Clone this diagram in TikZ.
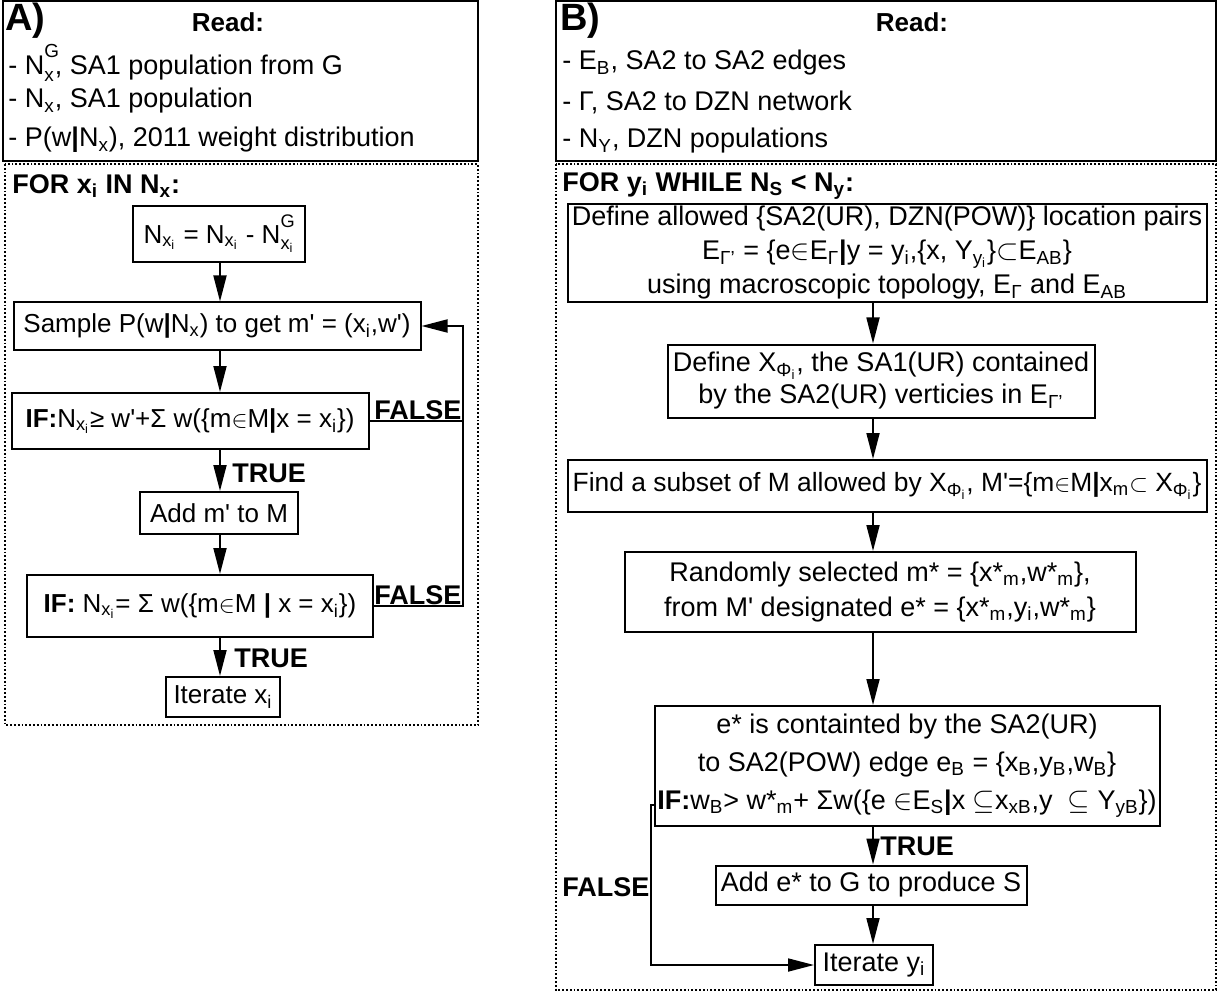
\documentclass[tikz,border=0pt]{standalone}
\usepackage{fontspec}
\setmainfont{Liberation Sans}
\usetikzlibrary{arrows.meta,positioning}

\newcommand{\low}[1]{\textsubscript{#1}}
\newcommand{\lowhigh}[2]{\rlap{\textsuperscript{\raisebox{0.7ex}{#2}}}\textsubscript{\raisebox{-0.3ex}{#1}}}
\newcommand{\tick}{\textquotesingle}

\begin{document}
\begin{tikzpicture}[x=0.5pt,y=-0.5pt,
  box/.style={draw,line width=1pt,align=center,inner sep=1pt},
  frame/.style={draw,line width=1pt},
  dotframe/.style={draw,densely dotted,line width=0.9pt},
  flow/.style={-{Triangle[length=13pt,width=6.5pt]},line width=0.9pt},
  flag/.style={font=\bfseries\fontsize{13.5}{15}\selectfont,anchor=west,inner sep=0pt},
  item/.style={font=\fontsize{13.5}{15}\selectfont,anchor=west,inner sep=0pt},
  atext/.style={font=\fontsize{13}{15}\selectfont},
  btext/.style={font=\fontsize{13.5}{16}\selectfont}]
\useasboundingbox (0,0) rectangle (1219,994);

% ---------- panel A ----------
\draw[frame] (3,1) rectangle (478,161);
\draw[dotframe] (5,164) rectangle (478,725);
\node[anchor=west,inner sep=0pt,font=\bfseries\fontsize{19}{21}\selectfont] (labA) at (5,21) {A)};
\node[font=\bfseries\fontsize{13}{15}\selectfont] (readA) at (228,22) {Read:};
\node[item] (ra1) at (8,63) {- N\lowhigh{x}{G}, SA1 population from G};
\node[item] (ra2) at (8,101) {- N\low{x}, SA1 population};
\node[item] (ra3) at (8,140) {- P(w\textbf{|}N\low{x}), 2011 weight distribution};
\node[flag] (forA) at (12,186) {FOR x\low{i} IN N\low{x}:};

\node[box,atext,minimum width=86pt,minimum height=28pt] (a1) at (219,234)
  {N\low{x\low{i}} = N\low{x\low{i}} - N\lowhigh{x\low{i}}{G}};
\node[box,atext,minimum width=203.5pt,minimum height=23.5pt] (a2) at (217,326)
  {Sample P(w\textbf{|}N\low{x}) to get m\tick{} = (x\low{i},w\tick)};
\node[box,atext,minimum width=178.5pt,minimum height=28pt] (a3) at (190,421)
  {\textbf{IF:}N\low{x\low{i}}≥ w\tick+Σ w(\{m$\in$M\textbf{|}x = x\low{i}\})};
\node[box,atext,minimum width=79pt,minimum height=21pt] (a4) at (219,513) {Add m\tick{} to M};
\node[box,atext,minimum width=173pt,minimum height=31pt] (a5) at (200,606)
  {\textbf{IF:} N\low{x\low{i}}= Σ w(\{m$\in$M \textbf{|} x = x\low{i}\})};
\node[box,atext,minimum width=57pt,minimum height=20pt] (a6) at (223,697) {Iterate x\low{i}};

\coordinate (sa) at (220,0);
\coordinate (ra) at (463,0);
\draw[flow] (sa |- a1.south) -- (sa |- a2.north);
\draw[flow] (sa |- a2.south) -- (sa |- a3.north);
\draw[flow] (sa |- a3.south) -- (sa |- a4.north);
\draw[flow] (sa |- a4.south) -- (sa |- a5.north);
\draw[flow] (sa |- a5.south) -- (sa |- a6.north);
\draw[flow] (a3.east) -- (a3.east -| ra) |- (a2.east);
\draw[line width=0.9pt] (a5.east) -- (a5.east -| ra) -- (ra |- a3.east);
\node[flag] (fa1) at (374,410) {FALSE};
\node[flag] (fa2) at (374,595) {FALSE};
\node[flag] (ta1) at (232,473) {TRUE};
\node[flag] (ta2) at (234,658) {TRUE};

% ---------- panel B ----------
\draw[frame] (556,1) rectangle (1216,161);
\draw[dotframe] (556,164) rectangle (1216,990);
\node[anchor=west,inner sep=0pt,font=\bfseries\fontsize{19}{21}\selectfont] (labB) at (560,21) {B)};
\node[font=\bfseries\fontsize{13}{15}\selectfont] (readB) at (912,22) {Read:};
\node[item] (rb1) at (562,63) {- E\low{B}, SA2 to SA2 edges};
\node[item] (rb2) at (562,102) {- Γ, SA2 to DZN network};
\node[item] (rb3) at (562,141) {- N\low{Y}, DZN populations};
\node[flag] (forB) at (562,186) {FOR y\low{i} WHILE N\low{S} < N\low{y}:};

\node[box,btext,minimum width=319.5pt,minimum height=47.5pt] (b1) at (887,253)
  {Define allowed \{SA2(UR), DZN(POW)\} location pairs\\[1pt]
   E\low{Γ'} = \{e$\in$E\low{Γ}\textbf{|}y = y\low{i},\{x, Y\low{y\low{i}}\}$\subset$E\low{AB}\}\\[1pt]
   using macroscopic topology, E\low{Γ} and E\low{AB}};
\node[box,btext,minimum width=213.5pt,minimum height=36.5pt] (b2) at (881,381)
  {Define X\low{Φ\low{i}}, the SA1(UR) contained\\ by the SA2(UR) verticies in E\low{Γ'}};
\node[box,font=\fontsize{13.2}{16}\selectfont,minimum width=319.5pt,minimum height=26pt] (b3) at (887,486)
  {Find a subset of M allowed by X\low{Φ\low{i}}, M\tick=\{m$\in$M\textbf{|}x\low{m}$\subset$ X\low{Φ\low{i}}\}};
\node[box,btext,minimum width=255.5pt,minimum height=40pt] (b4) at (880,592)
  {Randomly selected m* = \{x*\low{m},w*\low{m}\},\\[1.5pt]
   from M\tick{} designated e* = \{x*\low{m},y\low{i},w*\low{m}\}};
\node[box,btext,minimum width=252.5pt,minimum height=60pt] (b5) at (907,766)
  {e* is containted by the SA2(UR)\\[3pt]
   to SA2(POW) edge e\low{B} = \{x\low{B},y\low{B},w\low{B}\}\\[3pt]
   \textbf{IF:}w\low{B}> w*\low{m}+ Σw(\{e $\in$E\low{S}\textbf{|}x $\subseteq$x\low{xB},y \ $\subseteq$ Y\low{yB}\})};
\node[box,btext,minimum width=155.5pt,minimum height=19.5pt] (b6) at (871,885) {Add e* to G to produce S};
\node[box,btext,minimum width=59pt,minimum height=20pt] (b7) at (874,965) {Iterate y\low{i}};

\coordinate (sb) at (873,0);
\coordinate (lb) at (651,0);
\draw[flow] (sb |- b1.south) -- (sb |- b2.north);
\draw[flow] (sb |- b2.south) -- (sb |- b3.north);
\draw[flow] (sb |- b3.south) -- (sb |- b4.north);
\draw[flow] (sb |- b4.south) -- (sb |- b5.north);
\draw[flow] (sb |- b5.south) -- (sb |- b6.north);
\draw[flow] (sb |- b6.south) -- (sb |- b7.north);
\draw[flow] ([yshift=-19.5pt]b5.west) -- ([yshift=-19.5pt]b5.west -| lb) |- (b7.west);
\node[flag] (tb1) at (880,846) {TRUE};
\node[flag] (fb1) at (562,887) {FALSE};
\end{tikzpicture}
\end{document}
